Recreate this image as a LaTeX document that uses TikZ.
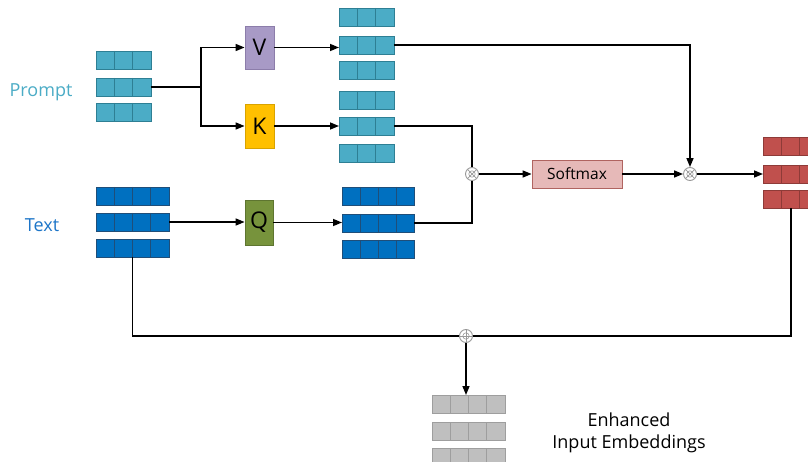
\documentclass[tikz,border=0pt]{standalone}
\usepackage{fontspec}
\setmainfont{Open Sans}
\usetikzlibrary{calc,arrows.meta}
\definecolor{pfill}{HTML}{4BACC6}
\definecolor{pdraw}{HTML}{2E7F94}
\definecolor{tfill}{HTML}{0070C0}
\definecolor{tdraw}{HTML}{1F4E79}
\definecolor{vfill}{HTML}{A89AC6}
\definecolor{vdraw}{HTML}{8C7DAA}
\definecolor{kfill}{HTML}{FFC000}
\definecolor{kdraw}{HTML}{D9A300}
\definecolor{qfill}{HTML}{77933C}
\definecolor{qdraw}{HTML}{5E7530}
\definecolor{sfill}{HTML}{E6B9B8}
\definecolor{sdraw}{HTML}{B06460}
\definecolor{rfill}{HTML}{C0504D}
\definecolor{rdraw}{HTML}{8E3B38}
\definecolor{gfill}{HTML}{BFBFBF}
\definecolor{gdraw}{HTML}{9E9E9E}
\definecolor{plabel}{HTML}{4BACC6}
\definecolor{tlabel}{HTML}{1C75C8}
\newcommand{\cellrow}[7]{%
  \node[draw=#7, fill=#6, line width=0.8pt, minimum width={#4*#5pt}, minimum height=18pt,
        inner sep=0pt, outer sep=0pt, anchor=north west] (#1) at (#2,#3) {};
  \foreach \i in {2,...,#4}
    \draw[#7, line width=0.8pt] ($(#1.north west)+({(\i-1)*#5},0)$) -- ($(#1.south west)+({(\i-1)*#5},0)$);
}
\begin{document}
\begin{tikzpicture}[x=1pt,y=-1pt,
  conn/.style={line width=1.5pt, black},
  arr/.style={conn, -{Triangle[length=9pt,width=7pt]}},
  letterbox/.style={minimum width=29pt, minimum height=44pt, inner sep=0pt, line width=0.8pt, font=\fontsize{23}{26}\selectfont},
  opnode/.style={circle, draw=gray!80, fill=white, line width=0.9pt, minimum size=13pt, inner sep=0pt},
  lbl/.style={font=\fontsize{18}{21}\selectfont, inner sep=0pt}
]
\clip (0,0) rectangle (808,462);
\fill[white] (0,0) rectangle (808,462);

% labels
\node[lbl, text=plabel] (plab) at (41,92) {Prompt};
\node[lbl, text=tlabel] (tlab) at (42,225) {Text};

% prompt rows
\cellrow{p1}{96}{51}{3}{18.3}{pfill}{pdraw}
\cellrow{p2}{96}{78}{3}{18.3}{pfill}{pdraw}
\cellrow{p3}{96}{103}{3}{18.3}{pfill}{pdraw}

% text rows
\cellrow{t1}{96}{187}{4}{18.25}{tfill}{tdraw}
\cellrow{t2}{96}{213}{4}{18.25}{tfill}{tdraw}
\cellrow{t3}{96}{239}{4}{18.25}{tfill}{tdraw}

% V K Q boxes
\node[letterbox, draw=vdraw, fill=vfill, minimum height=43pt] (V) at (259.5,47.5) {V};
\node[letterbox, draw=kdraw, fill=kfill] (K) at (259.5,126) {K};
\node[letterbox, draw=qdraw, fill=qfill, minimum width=28pt, minimum height=45pt] (Q) at (259,222.5) {Q};

% V rows
\cellrow{v1}{339}{8}{3}{18.3}{pfill}{pdraw}
\cellrow{v2}{339}{36}{3}{18.3}{pfill}{pdraw}
\cellrow{v3}{339}{61}{3}{18.3}{pfill}{pdraw}
% K rows
\cellrow{k1}{339}{91}{3}{18.3}{pfill}{pdraw}
\cellrow{k2}{339}{117}{3}{18.3}{pfill}{pdraw}
\cellrow{k3}{339}{144}{3}{18.3}{pfill}{pdraw}
% Q rows
\cellrow{q1}{342}{187}{4}{18.1}{tfill}{tdraw}
\cellrow{q2}{342}{214}{4}{18.1}{tfill}{tdraw}
\cellrow{q3}{342}{240}{4}{18.1}{tfill}{tdraw}

% operators
\node[opnode, path picture={
  \draw[gray!80, line width=0.7pt] ($(path picture bounding box.center)+(45:6.5)$) -- ($(path picture bounding box.center)+(225:6.5)$);
  \draw[gray!80, line width=0.7pt] ($(path picture bounding box.center)+(135:6.5)$) -- ($(path picture bounding box.center)+(315:6.5)$);
  \draw[gray!80, line width=0.6pt] (path picture bounding box.center) circle (3.2);}] (ot1) at (472,174) {};
\node[opnode, path picture={
  \draw[gray!80, line width=0.7pt] ($(path picture bounding box.center)+(45:6.5)$) -- ($(path picture bounding box.center)+(225:6.5)$);
  \draw[gray!80, line width=0.7pt] ($(path picture bounding box.center)+(135:6.5)$) -- ($(path picture bounding box.center)+(315:6.5)$);
  \draw[gray!80, line width=0.6pt] (path picture bounding box.center) circle (3.2);}] (ot2) at (690,174) {};
\node[opnode, path picture={
  \draw[gray!80, line width=0.7pt] ($(path picture bounding box.center)+(0:6.5)$) -- ($(path picture bounding box.center)+(180:6.5)$);
  \draw[gray!80, line width=0.7pt] ($(path picture bounding box.center)+(90:6.5)$) -- ($(path picture bounding box.center)+(270:6.5)$);
  \draw[gray!80, line width=0.6pt] (path picture bounding box.center) circle (3.2);}] (op) at (466,336) {};

% softmax
\node[draw=sdraw, fill=sfill, line width=0.8pt, minimum width=90pt, minimum height=28pt, inner sep=0pt,
      font=\fontsize{15.5}{18}\selectfont] (sm) at (577,174) {Softmax};

% red rows
\cellrow{r1}{763}{137}{4}{18}{rfill}{rdraw}
\cellrow{r2}{763}{165}{4}{18}{rfill}{rdraw}
\cellrow{r3}{763}{190}{4}{18}{rfill}{rdraw}

% gray rows
\cellrow{g1}{432}{395}{4}{18.25}{gfill}{gdraw}
\cellrow{g2}{432}{422}{4}{18.25}{gfill}{gdraw}
\cellrow{g3}{432}{448}{4}{18.25}{gfill}{gdraw}

\node[font=\fontsize{18}{22}\selectfont, align=center, inner sep=0pt] (enh) at (629,433) {Enhanced\\Input Embeddings};

% connectors
\coordinate (sp) at (201,87);
\draw[conn] (p2.east) -- (sp);
\draw[arr] (sp) |- (V.west);
\draw[arr] (sp) |- (K.west);
\draw[arr] (V.east) -- (V.east -| v2.west);
\draw[arr] (K.east) -- (K.east -| k2.west);
\draw[arr] (t2.east) -- (t2.east -| Q.west);
\draw[arr] (Q.east) -- (Q.east -| q2.west);
\draw[conn] (k2.east) -| (ot1.north);
\draw[conn] (q2.east) -| (ot1.south);
\draw[arr] (ot1.east) -- (sm.west);
\draw[arr] (sm.east) -- (ot2.west);
\draw[arr] (v2.east) -| (ot2.north);
\draw[arr] (ot2.east) -- (ot2.east -| r2.west);
\coordinate (rd) at ($(r3.south west)+(28,0)$);
\draw[conn] (t3.south) |- (op.west);
\draw[conn] (rd) |- (op.east);
\draw[arr] (op.south) -- (op.south |- g1.north);
\end{tikzpicture}
\end{document}
